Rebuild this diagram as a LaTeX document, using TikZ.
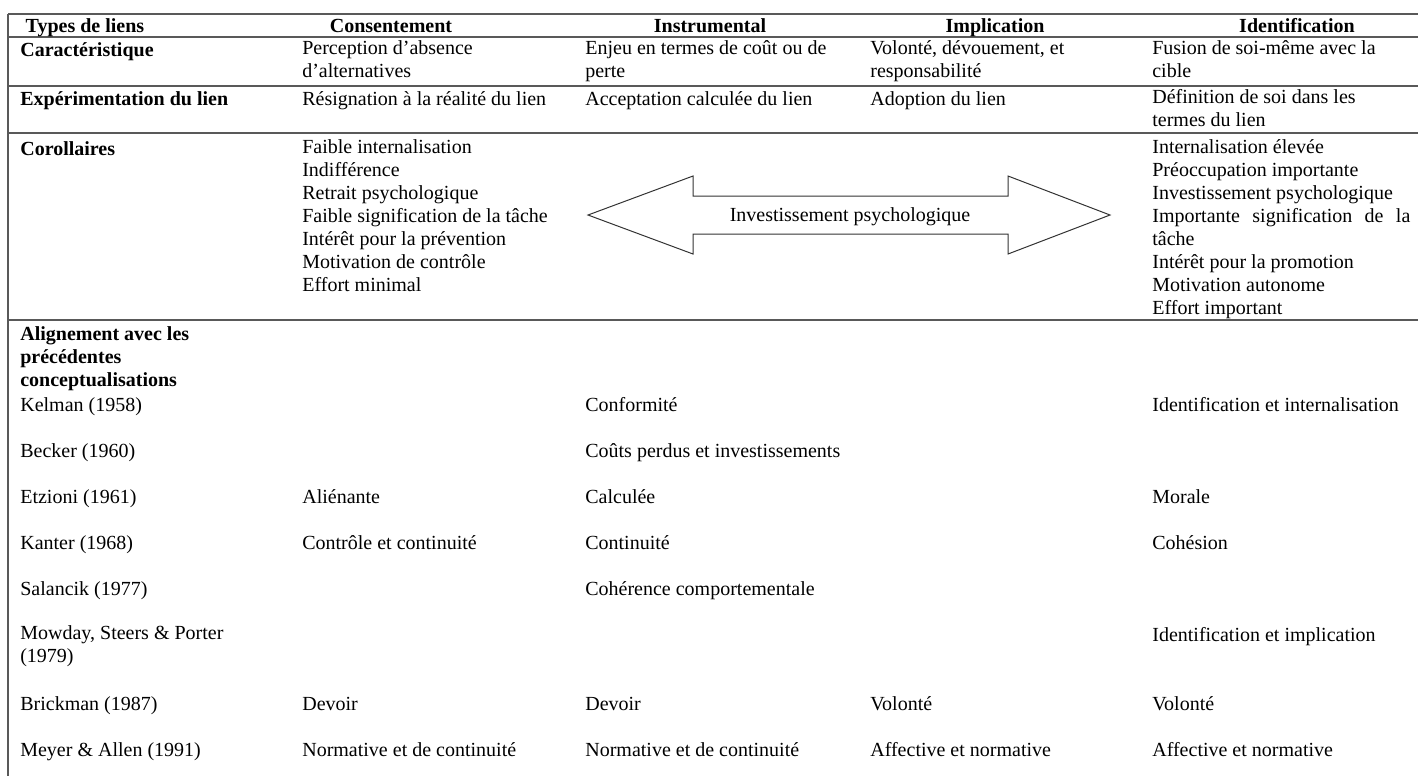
\documentclass[tikz,border=0pt]{standalone}
\usepackage{fontspec}
\setmainfont{Liberation Serif}
\newcommand\cellfont{\fontsize{12}{13.8}\selectfont}
\begin{document}
\begin{tikzpicture}[x=0.6pt,y=-0.6pt,
  rule/.style={draw=black!65,line width=1.1pt},
  cell/.style={anchor=north west,inner sep=0pt,align=left,font=\cellfont,
    yshift=7.9pt,execute at begin node=\strut},
  rowhead/.style={cell,font=\cellfont\bfseries},
  hdr/.style={anchor=base,inner sep=0pt,font=\cellfont\bfseries},
  bigarrow/.style={draw=black!80,line width=0.6pt}]
\useasboundingbox (0,0) rectangle (1418,776);
% table rules
\draw[rule] (8,14) -- (1418,14);
\draw[rule] (8,37) -- (1418,37);
\draw[rule] (8,86) -- (1418,86);
\draw[rule] (8,133) -- (1418,133);
\draw[rule] (8,320) -- (1418,320);
\draw[rule] (8,14) -- (8,776);
% header
\node[hdr] (h1) at (85,32) {Types de liens};
\node[hdr] (h2) at (391,32) {Consentement};
\node[hdr] (h3) at (710,32) {Instrumental};
\node[hdr] (h4) at (995,32) {Implication};
\node[hdr] (h5) at (1297,32) {Identification};
% row 1
\node[rowhead] (r1c1) at (20,53) {Caractéristique};
\node[cell] (r1c2) at (302,53) {Perception d’absence\\d’alternatives};
\node[cell] (r1c3) at (585,53) {Enjeu en termes de coût ou de\\perte};
\node[cell] (r1c4) at (870,53) {Volonté, dévouement, et\\responsabilité};
\node[cell] (r1c5) at (1152,53) {Fusion de soi-même avec la\\cible};
% row 2
\node[rowhead] (r2c1) at (20,102) {Expérimentation du lien};
\node[cell] (r2c2) at (302,102) {Résignation à la réalité du lien};
\node[cell] (r2c3) at (585,102) {Acceptation calculée du lien};
\node[cell] (r2c4) at (870,102) {Adoption du lien};
\node[cell] (r2c5) at (1152,102) {Définition de soi dans les\\termes du lien};
% row 3
\node[rowhead] (r3c1) at (20,152) {Corollaires};
\node[cell] (r3c2) at (302,152) {Faible internalisation\\Indifférence\\Retrait psychologique\\Faible signification de la tâche\\Intérêt pour la prévention\\Motivation de contrôle\\Effort minimal};
\node[cell] (r3c5) at (1152,152) {Internalisation élevée\\Préoccupation importante\\Investissement psychologique\\\makebox[154.8pt][s]{Importante signification de la}\\tâche\\Intérêt pour la promotion\\Motivation autonome\\Effort important};
\draw[bigarrow] (588,215) -- (693,176) -- (693,196) -- (1008,196) -- (1008,176)
  -- (1110,215) -- (1008,254) -- (1008,234) -- (693,234) -- (693,254) -- cycle;
\node[anchor=center,inner sep=0pt,font=\cellfont] (arr) at (850,217) {Investissement psychologique};
% row 4
\node[rowhead] (r4c1) at (20,339) {Alignement avec les\\précédentes\\conceptualisations};
\node[cell] (k1) at (20,408) {Kelman (1958)};
\node[cell] (k3) at (585,408) {Conformité};
\node[cell] (k5) at (1152,408) {Identification et internalisation};
\node[cell] (b1) at (20,454) {Becker (1960)};
\node[cell] (b3) at (585,454) {Coûts perdus et investissements};
\node[cell] (e1) at (20,500) {Etzioni (1961)};
\node[cell] (e2) at (302,500) {Aliénante};
\node[cell] (e3) at (585,500) {Calculée};
\node[cell] (e5) at (1152,500) {Morale};
\node[cell] (ka1) at (20,546) {Kanter (1968)};
\node[cell] (ka2) at (302,546) {Contrôle et continuité};
\node[cell] (ka3) at (585,546) {Continuité};
\node[cell] (ka5) at (1152,546) {Cohésion};
\node[cell] (s1) at (20,592) {Salancik (1977)};
\node[cell] (s3) at (585,592) {Cohérence comportementale};
\node[cell] (m1) at (20,638) {Mowday, Steers \& Porter\\(1979)};
\node[cell] (m5) at (1152,638) {Identification et implication};
\node[cell] (br1) at (20,707) {Brickman (1987)};
\node[cell] (br2) at (302,707) {Devoir};
\node[cell] (br3) at (585,707) {Devoir};
\node[cell] (br4) at (870,707) {Volonté};
\node[cell] (br5) at (1152,707) {Volonté};
\node[cell] (ma1) at (20,753) {Meyer \& Allen (1991)};
\node[cell] (ma2) at (302,753) {Normative et de continuité};
\node[cell] (ma3) at (585,753) {Normative et de continuité};
\node[cell] (ma4) at (870,753) {Affective et normative};
\node[cell] (ma5) at (1152,753) {Affective et normative};
\end{tikzpicture}
\end{document}
